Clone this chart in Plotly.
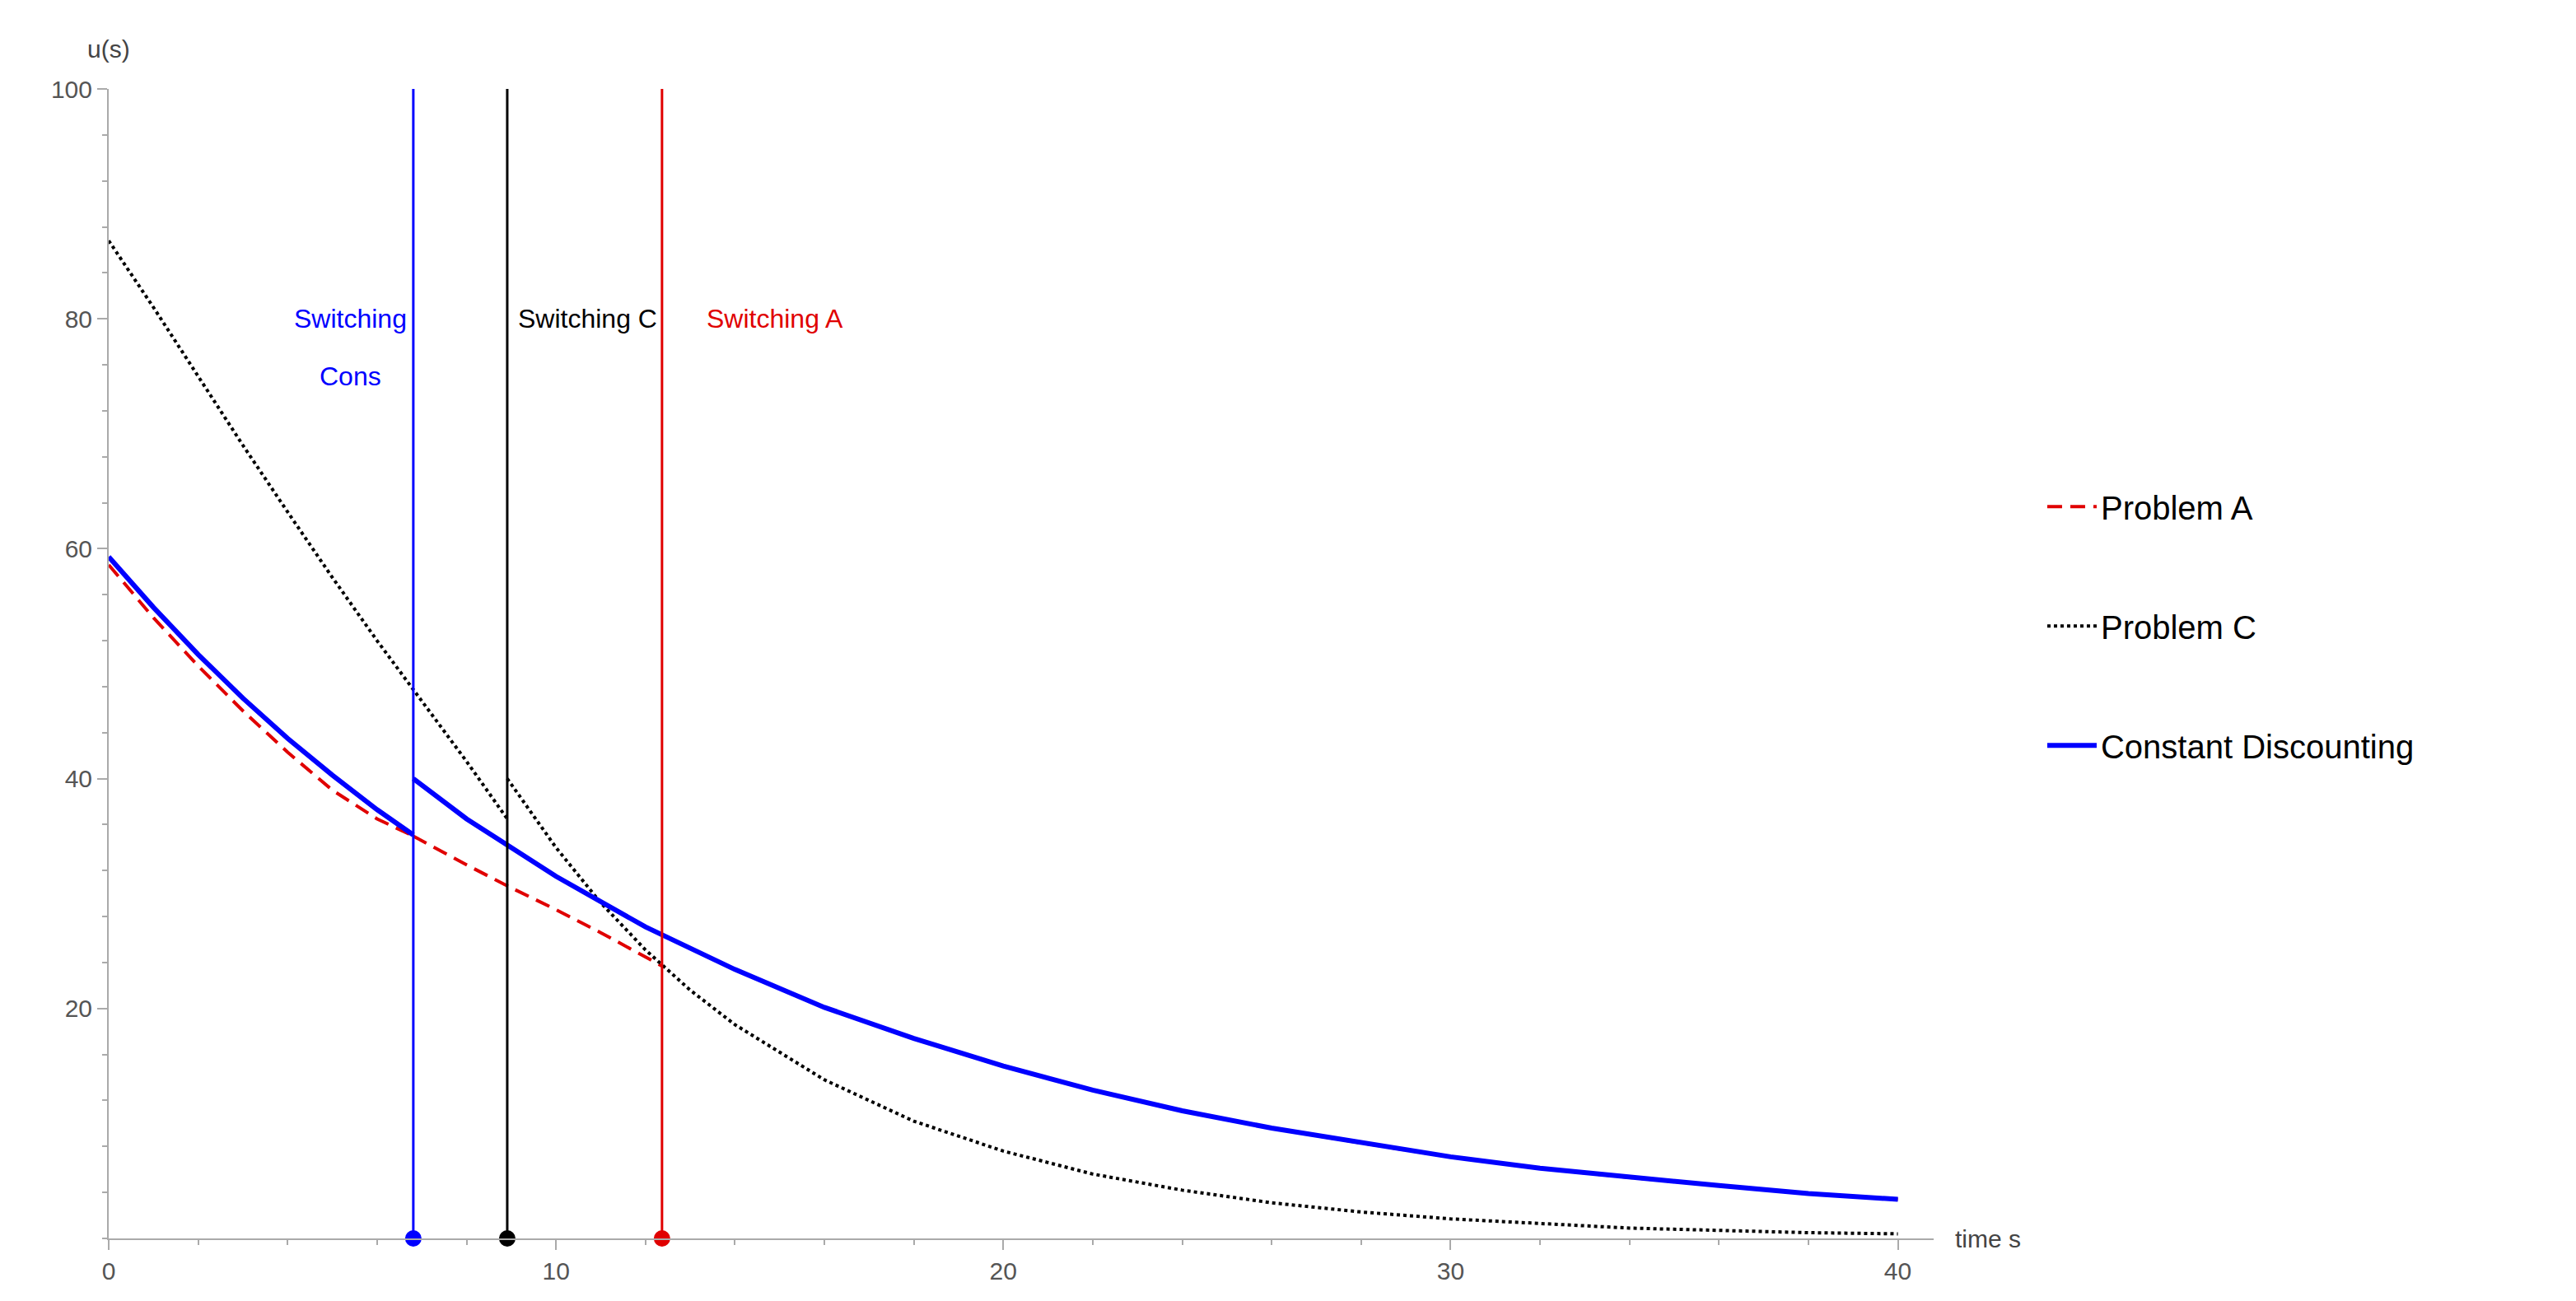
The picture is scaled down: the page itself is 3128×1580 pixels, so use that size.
import plotly.graph_objects as go

# Constant discounting
blue1_x = [0, 1, 2, 3, 4, 5, 6, 6.81]
blue1_y = [59.3, 54.9, 50.8, 47.0, 43.5, 40.3, 37.3, 35.1]
blue2_x = [6.81, 8, 10, 12, 14, 16, 18, 20, 22, 24, 26, 28, 30, 32, 34, 36, 38, 40]
blue2_y = [40, 36.5, 31.5, 27.1, 23.4, 20.1, 17.4, 15.0, 12.9, 11.1, 9.6, 8.3, 7.1, 6.1, 5.3, 4.6, 3.9, 3.4]
# Problem A
red1_x = [0, 1, 2, 3, 4, 5, 6, 6.81]
red1_y = [58.6, 54.0, 49.8, 45.9, 42.3, 39.0, 36.5, 35.0]
red2_x = [6.81, 8, 9, 10, 11, 12.37]
red2_y = [35.0, 32.5, 30.5, 28.6, 26.6, 23.7]
red3_x = [12.37, 14, 16, 18, 20, 22, 24, 26, 28, 30, 32, 34, 36, 38, 40]
red3_y = [26.4, 23.4, 20.1, 17.4, 15.0, 12.9, 11.1, 9.6, 8.3, 7.1, 6.1, 5.3, 4.6, 3.9, 3.4]
# Problem C
blk1_x = [0, 1, 2, 3, 4, 5, 6, 7, 8, 8.91]
blk1_y = [86.8, 81.0, 75.0, 69.0, 63.2, 57.5, 52.0, 46.8, 41.5, 36.5]
blk2_x = [8.91, 10, 11, 12, 13, 14, 16, 18, 20, 22, 24, 26, 28, 30, 32, 34, 36, 38, 40]
blk2_y = [40, 34.0, 29.2, 25.1, 21.6, 18.6, 13.8, 10.2, 7.6, 5.6, 4.2, 3.1, 2.3, 1.7, 1.3, 0.9, 0.7, 0.5, 0.4]

switch_t = [6.81, 8.91, 12.37]
switch_col = ["#0000ff", "#000000", "#e00000"]

fig = go.Figure()
RED, BLUE = "#e00000", "#0000ff"

for i, (xs, ys) in enumerate([(red1_x, red1_y), (red2_x, red2_y), (red3_x, red3_y)]):
    fig.add_trace(go.Scatter(x=xs, y=ys, mode="lines", line=dict(color=RED, width=4, dash="18px,10px"),
                             name="Problem A", legendgroup="A", showlegend=(i == 0)))
for i, (xs, ys) in enumerate([(blk1_x, blk1_y), (blk2_x, blk2_y)]):
    fig.add_trace(go.Scatter(x=xs, y=ys, mode="lines", line=dict(color="black", width=4, dash="4px,4px"),
                             name="Problem C", legendgroup="C", showlegend=(i == 0)))
for i, (xs, ys) in enumerate([(blue1_x, blue1_y), (blue2_x, blue2_y)]):
    fig.add_trace(go.Scatter(x=xs, y=ys, mode="lines", line=dict(color=BLUE, width=6),
                             name="Constant Discounting", legendgroup="D", showlegend=(i == 0)))
for t, c in zip(switch_t, switch_col):
    fig.add_trace(go.Scatter(x=[t, t], y=[0, 100], mode="lines", line=dict(color=c, width=3),
                             showlegend=False, hoverinfo="skip"))
    fig.add_trace(go.Scatter(x=[t], y=[0], mode="markers", marker=dict(color=c, size=20),
                             showlegend=False, cliponaxis=False))

txt = dict(family="Liberation Sans, Arial", size=32)
fig.add_annotation(x=5.4, y=80, text="Switching", showarrow=False, font=dict(txt, color=BLUE))
fig.add_annotation(x=5.4, y=75, text="Cons", showarrow=False, font=dict(txt, color=BLUE))
fig.add_annotation(x=10.7, y=80, text="Switching C", showarrow=False, font=dict(txt, color="black"))
fig.add_annotation(x=14.9, y=80, text="Switching A", showarrow=False, font=dict(txt, color=RED))
fig.add_annotation(x=0, y=100, yshift=30, text="u(s)", showarrow=False, xanchor="center", yanchor="bottom",
                   font=dict(family="Liberation Sans, Arial", size=30, color="#444"))
fig.add_annotation(x=40.8, y=0, xshift=24, text="time s", showarrow=False, xanchor="left", yanchor="middle",
                   font=dict(family="Liberation Sans, Arial", size=30, color="#444"))

axis_common = dict(showgrid=False, zeroline=False, showline=True, linecolor="#aaaaaa", linewidth=2,
                   ticks="outside", tickcolor="#aaaaaa", ticklen=12, tickwidth=2,
                   tickfont=dict(family="Liberation Sans, Arial", size=30, color="#555"))
fig.update_layout(
    width=3128, height=1580, plot_bgcolor="white", paper_bgcolor="white",
    margin=dict(l=124, r=788, t=100, b=84),
    xaxis=dict(axis_common, range=[0, 40.8], tickvals=[0, 10, 20, 30, 40],
               minor=dict(dtick=2, ticks="outside", ticklen=6, tickcolor="#aaaaaa")),
    yaxis=dict(axis_common, range=[0, 100], tickvals=[20, 40, 60, 80, 100],
               minor=dict(dtick=4, ticks="outside", ticklen=6, tickcolor="#aaaaaa")),
    legend=dict(x=1.06, y=0.66, xanchor="left", yanchor="top", tracegroupgap=90,
                font=dict(family="Liberation Sans, Arial", size=40, color="black"), itemwidth=60),
)
fig.write_html("out.html")
